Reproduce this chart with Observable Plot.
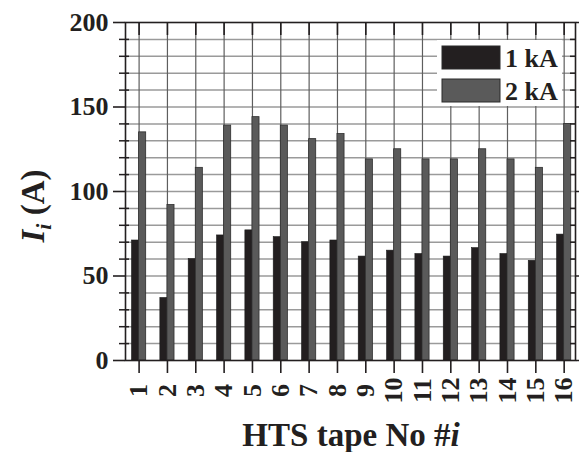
<!DOCTYPE html>
<html>
<head>
<meta charset="utf-8">
<script src="https://cdn.jsdelivr.net/npm/d3@7"></script>
<script src="https://cdn.jsdelivr.net/npm/@observablehq/plot@0.6"></script>
<style>
  html, body { margin: 0; padding: 0; background: #fff; }
  #chart svg { display: block; }
</style>
</head>
<body>
<div id="chart"></div>
<script>
// ---- data ----
const tapes = [1, 2, 3, 4, 5, 6, 7, 8, 9, 10, 11, 12, 13, 14, 15, 16];
const current1kA = [71, 37, 60, 74, 77, 73, 70, 71, 61.5, 65, 63, 61.5, 66.5, 63, 59, 74.5];
const current2kA = [135, 92, 114, 139, 144, 139, 131, 134, 119, 125, 119, 119, 125, 119, 114, 140];
const seriesNames = ["1 kA", "2 kA"];
const seriesColors = ["#231f20", "#5a5a5a"];
const yMajorTicks = [0, 50, 100, 150, 200];
const yMinorTicks = [10, 20, 30, 40, 60, 70, 80, 90, 110, 120, 130, 140, 160, 170, 180, 190];
const yGridTicks = [10, 20, 30, 40, 50, 60, 70, 80, 90, 100, 110, 120, 130, 140, 150, 160, 170, 180, 190];

const rows1 = tapes.map((t, i) => ({tape: t, value: current1kA[i]}));
const rows2 = tapes.map((t, i) => ({tape: t, value: current2kA[i]}));

const W = 579, H = 452;
const font = "Liberation Serif, Times New Roman, serif";
const barW = 0.25;

const chart = Plot.plot({
  width: W,
  height: H,
  marginLeft: 125,
  marginRight: 4,
  marginTop: 22,
  marginBottom: 92,
  style: {fontFamily: font, fontWeight: "bold", fontSize: "25px", color: "#231f20", background: "#fff"},
  x: {type: "linear", domain: [0.52, 16.4], axis: null},
  y: {domain: [0, 200], axis: null},
  marks: [
    Plot.gridY(yGridTicks, {stroke: "#9a9a9a", strokeOpacity: 1, strokeWidth: 1.5}),
    Plot.gridX(tapes, {stroke: "#5e5e5e", strokeOpacity: 1, strokeWidth: 1.2}),
    Plot.rectY(rows1, {x1: d => d.tape - barW, x2: d => d.tape, y1: 0, y2: "value", fill: seriesColors[0], stroke: "#1a1a1a", strokeWidth: 0.6}),
    Plot.rectY(rows2, {x1: d => d.tape, x2: d => d.tape + barW, y1: 0, y2: "value", fill: seriesColors[1], stroke: "#2e2e2e", strokeWidth: 0.8}),
    // left axis
    Plot.axisY(yMajorTicks, {anchor: "left", tickSize: 12, tickPadding: 5, label: null, stroke: "#231f20", strokeWidth: 1.6,
      fontSize: 26, fontWeight: "bold", fill: "#231f20"}),
    Plot.axisY(yMinorTicks, {anchor: "left", tickSize: 10, dx: 4, tickFormat: () => "", label: null, stroke: "#231f20", strokeWidth: 1.5}),
    // right axis
    Plot.axisY(yMajorTicks, {anchor: "right", tickSize: 8, tickFormat: () => "", label: null, stroke: "#231f20", strokeWidth: 1.5}),
    Plot.axisY(yMinorTicks, {anchor: "right", tickSize: 6, dx: -6, tickFormat: () => "", label: null, stroke: "#231f20", strokeWidth: 1.5}),
    // top ticks (inward)
    Plot.axisX(tapes, {anchor: "top", tickSize: 12, dy: 12, tickFormat: () => "", label: null, stroke: "#231f20", strokeWidth: 1.6}),
    // bottom ticks (outward)
    Plot.axisX(tapes, {anchor: "bottom", tickSize: 13, tickFormat: () => "", label: null, stroke: "#231f20", strokeWidth: 1.6}),
    // bottom tick labels, rotated and centred
    Plot.text(tapes, {x: d => d, frameAnchor: "bottom", dy: 30, rotate: -90, text: d => String(d),
      textAnchor: "middle", lineAnchor: "middle", fontSize: 26, fontWeight: "bold", fill: "#231f20"}),
    Plot.frame({stroke: "#231f20", strokeWidth: 1.6})
  ]
});

document.getElementById("chart").appendChild(chart);

const svg = d3.select(chart);

// legend
const lg = svg.append("g").attr("class", "legend").attr("text-anchor", "start");
lg.append("rect").attr("x", 437).attr("y", 40).attr("width", 125).attr("height", 66).attr("fill", "#fff");
seriesNames.forEach((name, i) => {
  const y0 = [46, 79][i];
  lg.append("rect").attr("x", 442).attr("y", y0).attr("width", 58).attr("height", 23)
    .attr("fill", seriesColors[i]).attr("stroke", "#2a2a2a").attr("stroke-width", 1);
  lg.append("text").attr("x", 505).attr("y", y0 + 21).attr("text-anchor", "start")
    .attr("font-family", font).attr("font-weight", "bold").attr("font-size", 26).attr("fill", "#231f20")
    .text(name);
});

// y-axis title
const yt = svg.append("text")
  .attr("transform", "translate(44,206) rotate(-90)")
  .attr("text-anchor", "middle")
  .attr("font-family", font).attr("font-weight", "bold").attr("font-size", 33).attr("fill", "#231f20");
yt.append("tspan").attr("font-style", "italic").text("I");
yt.append("tspan").attr("font-style", "italic").attr("font-size", 22).attr("dy", 7).text("i");
yt.append("tspan").attr("dy", -7).text(" (A)");

// x-axis title
const xt = svg.append("text")
  .attr("x", 351).attr("y", 446)
  .attr("text-anchor", "middle")
  .attr("font-family", font).attr("font-weight", "bold").attr("font-size", 33).attr("fill", "#231f20");
xt.append("tspan").text("HTS tape No #");
xt.append("tspan").attr("font-style", "italic").text("i");
</script>
</body>
</html>
